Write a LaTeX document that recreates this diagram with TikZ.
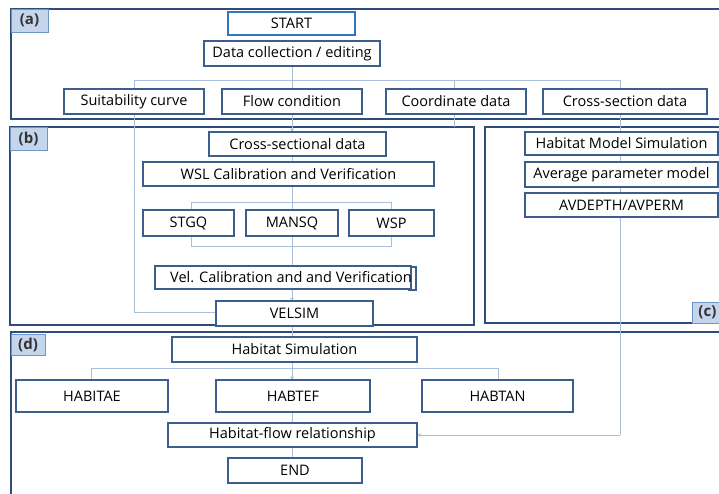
\documentclass[tikz,border=0pt]{standalone}
\usepackage{fontspec}
\setmainfont{Open Sans}
\usetikzlibrary{arrows.meta,shadows}
\definecolor{framec}{HTML}{2E4D7B}
\definecolor{boxc}{HTML}{3B5E8C}
\definecolor{startc}{HTML}{2F75C0}
\definecolor{linec}{HTML}{A9BED8}
\definecolor{labfill}{HTML}{C5D6EC}
\definecolor{labdraw}{HTML}{6F95C8}
\tikzset{
  frame/.style={draw=framec, line width=1.5pt},
  lab/.style={draw=labdraw, fill=labfill, line width=0.8pt, inner sep=0pt, font=\fontsize{15}{17}\selectfont\bfseries, text=black!80},
  fbox/.style={draw=boxc, line width=1.6pt, fill=white, inner sep=0pt,
     drop shadow={shadow xshift=0.8pt, shadow yshift=-1.4pt, fill=black, opacity=0.18},
     font=\fontsize{14.5}{17}\selectfont},
  conn/.style={draw=linec, line width=0.9pt},
  arr/.style={conn, -{Stealth[length=3.5pt,width=3.5pt]}},
}
\begin{document}
\begin{tikzpicture}[x=1pt,y=-1pt]
\useasboundingbox (0,0) rectangle (719,493);
\clip (0,0) rectangle (719,493);
\fill[white] (0,0) rectangle (719,493);
% frames
\draw[frame] (11,9) rectangle (730,119);
\draw[frame] (10,127) rectangle (474,325);
\draw[frame] (485,127) rectangle (730,323);
\draw[frame] (11,332) rectangle (730,500);
\node[lab, minimum width=37pt, minimum height=23pt] (la) at (29.5,20.5) {(a)};
\node[lab, minimum width=37pt, minimum height=23pt] (lb) at (28.5,138.5) {(b)};
\node[lab, minimum width=38pt, minimum height=21pt, anchor=west] (lc) at (692,312.5) {\hspace*{1pt}(c)\hspace*{9pt}};
\node[lab, minimum width=34pt, minimum height=21pt] (ld) at (28,344.5) {(d)};

% junction coordinates
\coordinate (bus1) at (134,80);
\coordinate (bus2) at (292,80);
\coordinate (bus3) at (454,80);
\coordinate (bus4) at (620,80);
\coordinate (b3end) at (454,127);
\coordinate (vturn) at (134,312);
\coordinate (cturn) at (620,435);
\coordinate (brTL) at (191,202);
\coordinate (brBR) at (391,246);
\coordinate (hb1) at (91,368);
\coordinate (hb2) at (292,368);
\coordinate (hb3) at (498,368);

% connectors (behind boxes)
\draw[conn] (bus1) -- (bus4);
\draw[conn] (292,66) -- (bus2);
\draw[conn] (bus1) -- (vturn) -- (216,312);
\draw[conn] (bus2) -- (292,458);
\draw[conn] (bus3) -- (b3end);
\draw[conn] (bus4) -- (cturn);
\draw[conn] (brTL) rectangle (brBR);
\draw[conn] (hb1) -- (hb3);
\draw[conn] (hb1) -- (91,380);
\draw[conn] (hb3) -- (498,380);
\draw[arr] (292,121) -- (292,132);
\draw[arr] (292,291) -- (292,301);
\draw[arr] (292,369) -- (292,380);
\draw[arr] (cturn) -- (417.5,435);

% (a)
\node[fbox, draw=startc, drop shadow={opacity=0}, minimum width=127pt, minimum height=23pt] (start) at (291.5,23.5) {START};
\node[fbox, minimum width=176pt, minimum height=25pt] (data) at (292,53.5) {Data collection / editing};
\node[fbox, minimum width=140pt, minimum height=25pt] (suit) at (134,101.5) {Suitability curve};
\node[fbox, minimum width=140pt, minimum height=25pt] (flow) at (292,101.5) {Flow condition};
\node[fbox, minimum width=140pt, minimum height=25pt] (coord) at (456,101.5) {Coordinate data};
\node[fbox, minimum width=164pt, minimum height=25pt] (cross) at (625,101.5) {Cross-section data};

% (b)
\node[fbox, minimum width=177pt, minimum height=24pt] (csd) at (297.5,144) {Cross-sectional data};
\node[fbox, minimum width=291pt, minimum height=24pt] (wsl) at (288.5,174) {WSL Calibration and Verification};
\node[fbox, minimum width=91pt, minimum height=26pt] (stgq) at (188.5,223) {STGQ};
\node[fbox, minimum width=92pt, minimum height=26pt] (mansq) at (292,223) {MANSQ};
\node[fbox, minimum width=85pt, minimum height=26pt] (wsp) at (391.5,223) {WSP};
\draw[draw=boxc, line width=1.2pt] (408,267) -- (416,267) -- (416,290) -- (408,290);
\node[fbox, minimum width=256pt, minimum height=23pt] (vel) at (283,277.5) {};
\node[font=\fontsize{14.5}{17}\selectfont, inner sep=0pt] (veltext) at (291,277.5) {Vel. Calibration and and Verification};
\node[fbox, minimum width=157pt, minimum height=25pt] (velsim) at (294.5,313.5) {VELSIM};

% (c)
\node[fbox, minimum width=193pt, minimum height=23pt] (hms) at (621.5,143.5) {Habitat Model Simulation};
\node[fbox, minimum width=193pt, minimum height=25pt] (apm) at (621.5,174.5) {Average parameter model};
\node[fbox, minimum width=193pt, minimum height=24pt] (avd) at (621.5,205) {AVDEPTH/AVPERM};

% (d)
\node[fbox, minimum width=245pt, minimum height=25pt] (hsim) at (294.5,349.5) {Habitat Simulation};
\node[fbox, minimum width=152pt, minimum height=32pt] (habitae) at (92,396) {HABITAE};
\node[fbox, minimum width=154pt, minimum height=32pt] (habtef) at (293,396) {HABTEF};
\node[fbox, minimum width=151pt, minimum height=32pt] (habtan) at (497.5,396) {HABTAN};
\node[fbox, minimum width=249pt, minimum height=24pt] (hfr) at (292.5,435) {Habitat-flow relationship};
\node[fbox, minimum width=134pt, minimum height=25pt] (end) at (295,470.5) {END};
\end{tikzpicture}
\end{document}
